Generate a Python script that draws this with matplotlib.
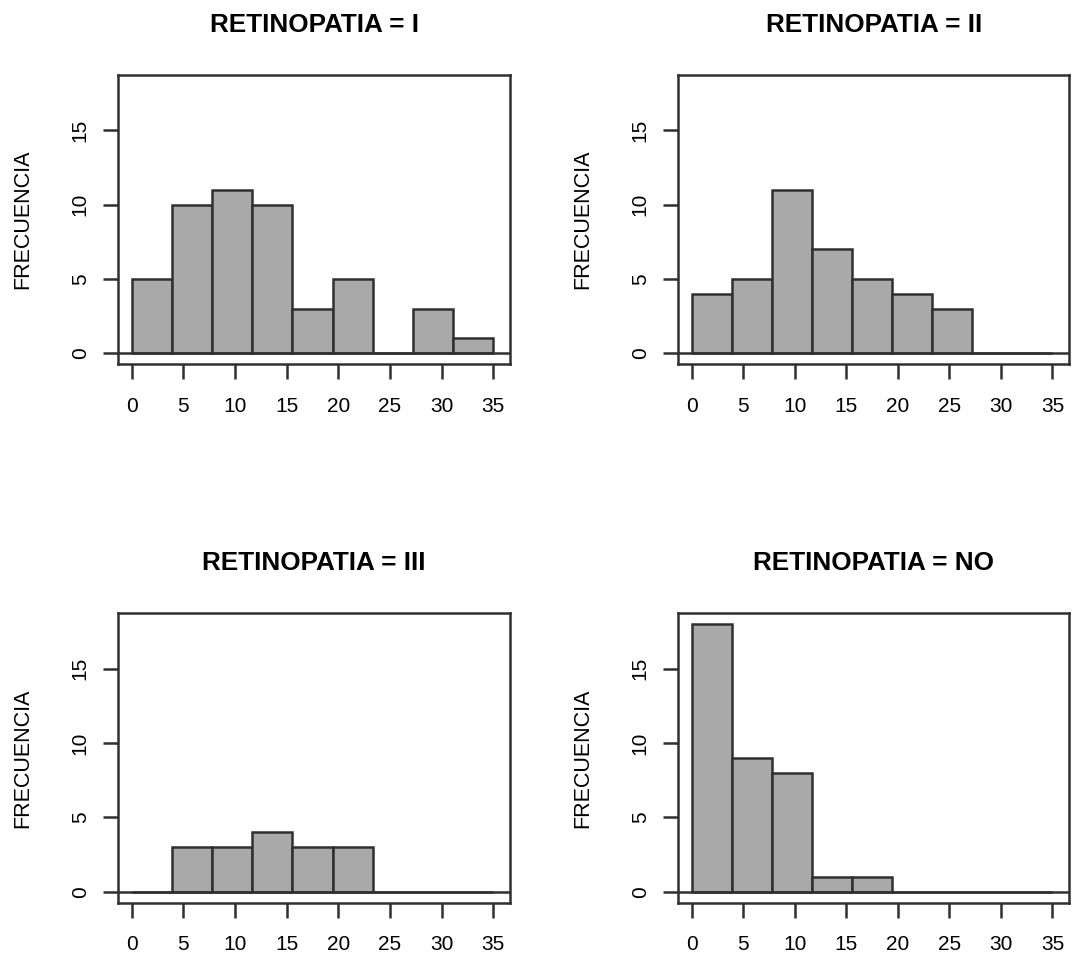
import numpy as np
import matplotlib
matplotlib.use("Agg")
import matplotlib.pyplot as plt

plt.rcParams["font.family"] = ["Liberation Sans", "DejaVu Sans"]

# Histogram bins shared by all panels
bin_start = 0
bin_end = 35
n_bins = 9

titles = ["RETINOPATIA = I", "RETINOPATIA = II", "RETINOPATIA = III", "RETINOPATIA = NO"]
counts_I = [5, 10, 11, 10, 3, 5, 0, 3, 1]
counts_II = [4, 5, 11, 7, 5, 4, 3, 0, 0]
counts_III = [0, 3, 3, 4, 3, 3, 0, 0, 0]
counts_NO = [18, 9, 8, 1, 1, 0, 0, 0, 0]
all_counts = [counts_I, counts_II, counts_III, counts_NO]

x_ticks = [0, 5, 10, 15, 20, 25, 30, 35]
y_ticks = [0, 5, 10, 15]
y_max = 18
y_label = "FRECUENCIA"

line_col = "#303030"
fill_col = "#a9a9a9"
lw = 1.8

W, H = 1072, 959
fig = plt.figure(figsize=(W / 100, H / 100), dpi=100)

# axes boxes in pixels: (left, top, right, bottom)
boxes = [
    (118.3, 75, 510, 364),
    (678.3, 75, 1069, 364),
    (118.3, 613.3, 510, 902.5),
    (678.3, 613.3, 1069, 902.5),
]
ylabel_offset = 96  # pixels left of the axes box

edges = np.linspace(bin_start, bin_end, n_bins + 1)
widths = np.diff(edges)

for (l, t, r, b), title, counts in zip(boxes, titles, all_counts):
    ax = fig.add_axes([l / W, (H - b) / H, (r - l) / W, (b - t) / H])
    ax.bar(edges[:-1], counts, width=widths, align="edge", color=fill_col,
           edgecolor=line_col, linewidth=lw, zorder=2)
    ax.axhline(0, color=line_col, linewidth=lw, zorder=3)

    xr = bin_end - bin_start
    ax.set_xlim(bin_start - 0.037 * xr, bin_end + 0.046 * xr)
    ax.set_ylim(-0.04 * y_max, 1.04 * y_max)

    ax.set_xticks(x_ticks)
    ax.set_yticks(y_ticks)
    ax.set_xticklabels([str(v) for v in x_ticks])
    ax.set_yticklabels([str(v) for v in y_ticks], rotation=90, va="center")
    ax.tick_params(axis="both", length=10.5, width=lw, color=line_col,
                   labelsize=15)
    ax.tick_params(axis="x", pad=13)
    ax.tick_params(axis="y", pad=10)

    for s in ax.spines.values():
        s.set_color(line_col)
        s.set_linewidth(lw)

    ax.set_title(title, fontsize=18.8, fontweight="bold", pad=31)
    fig.text((l - ylabel_offset) / W, 1 - (t + b) / 2 / H, y_label,
             rotation=90, ha="center", va="center", fontsize=15.5)

fig.savefig("out.png", dpi=100)
